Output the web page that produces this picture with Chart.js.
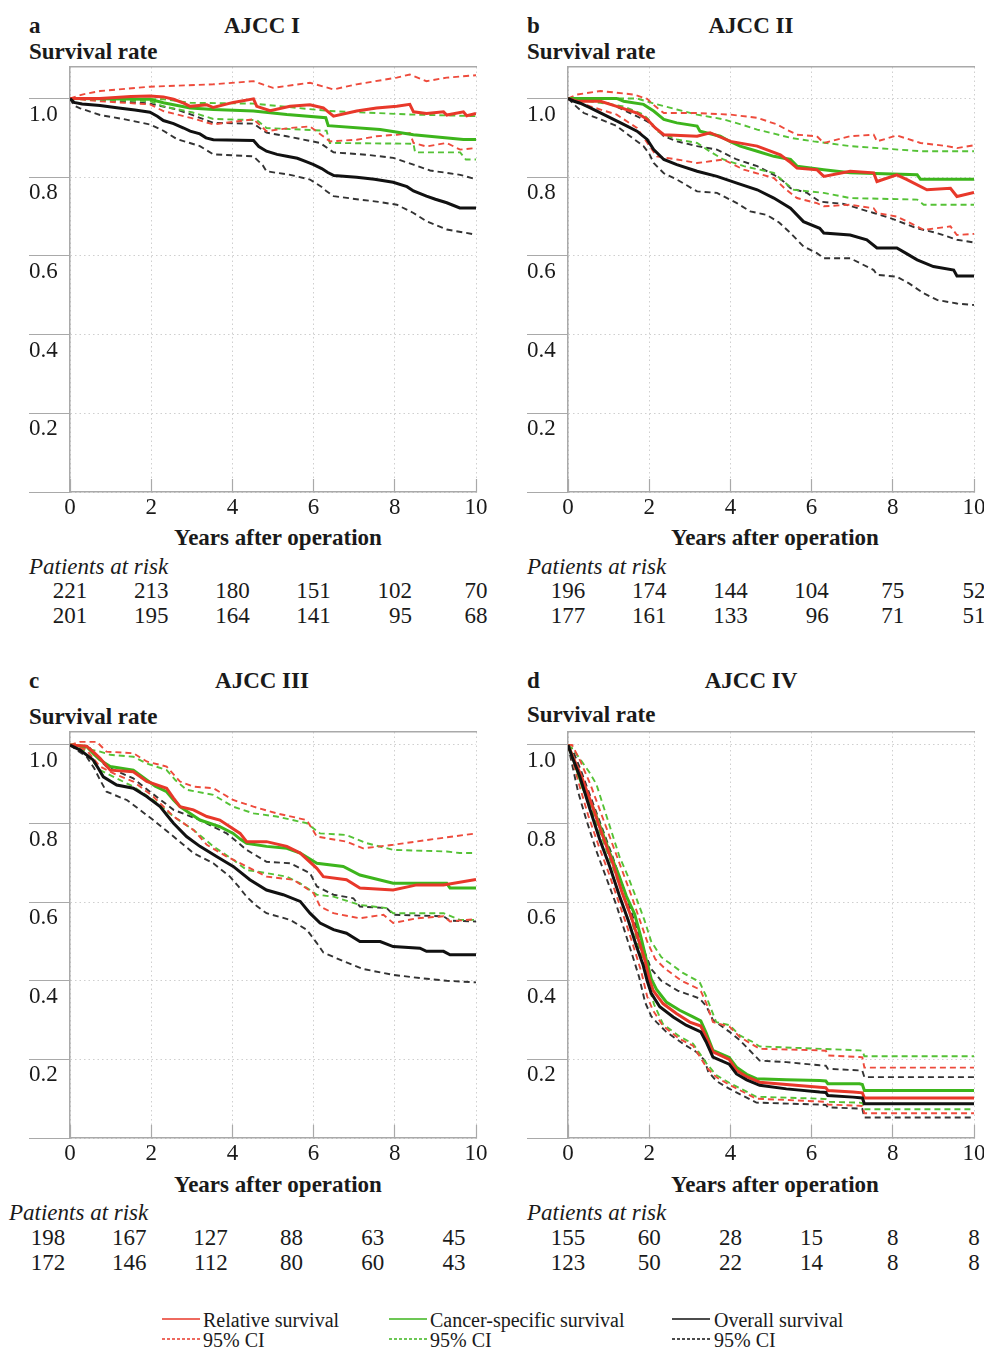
<!DOCTYPE html>
<html><head><meta charset="utf-8">
<script src="https://cdn.jsdelivr.net/npm/chart.js@4.4.1/dist/chart.umd.min.js"></script>
<style>
html,body{margin:0;padding:0;background:#fff;}
body{width:984px;height:1351px;position:relative;overflow:hidden;font-family:"Liberation Serif","Times New Roman",serif;color:#1a1a1a;}
.t{position:absolute;white-space:nowrap;line-height:1;}
.b{font-weight:bold;font-size:23px;}
.c{transform:translate(-50%,-50%);}
.l{transform:translateY(-50%);}
.pat{font-style:italic;font-size:23px;}
.leg{font-size:20px;}
canvas{position:absolute;}
.risk{position:absolute;font-size:23px;line-height:25.5px;text-align:right;transform:translateX(-50%);white-space:nowrap;}
svg{position:absolute;}
</style></head><body>

<div class="t b l" style="left:29px;top:25px">a</div>
<div class="t b c" style="left:262px;top:25px">AJCC I</div>
<div class="t b l" style="left:29px;top:50.5px">Survival rate</div>
<div class="t b l" style="left:527px;top:25px">b</div>
<div class="t b c" style="left:751px;top:25px">AJCC II</div>
<div class="t b l" style="left:527px;top:50.5px">Survival rate</div>
<div class="t b c" style="left:278px;top:537px">Years after operation</div>
<div class="t b c" style="left:775px;top:537px">Years after operation</div>
<div class="t pat l" style="left:29px;top:565.5px">Patients at risk</div>
<div class="t pat l" style="left:527px;top:565.5px">Patients at risk</div>

<div class="t b l" style="left:29px;top:679.5px">c</div>
<div class="t b c" style="left:262px;top:679.5px">AJCC III</div>
<div class="t b l" style="left:29px;top:715.5px">Survival rate</div>
<div class="t b l" style="left:527px;top:679.5px">d</div>
<div class="t b c" style="left:751px;top:679.5px">AJCC IV</div>
<div class="t b l" style="left:527px;top:714px">Survival rate</div>
<div class="t b c" style="left:278px;top:1184px">Years after operation</div>
<div class="t b c" style="left:775px;top:1184px">Years after operation</div>
<div class="t pat l" style="left:9px;top:1212px">Patients at risk</div>
<div class="t pat l" style="left:527px;top:1212px">Patients at risk</div>

<canvas id="ca" width="474" height="471" style="left:29px;top:51px;width:474px;height:471px"></canvas>
<canvas id="cb" width="474" height="471" style="left:527px;top:51px;width:474px;height:471px"></canvas>
<canvas id="cc" width="474" height="452" style="left:29px;top:716px;width:474px;height:452px"></canvas>
<canvas id="cd" width="474" height="452" style="left:527px;top:716px;width:474px;height:452px"></canvas>

<svg style="left:162px;top:1313.5px" width="38" height="10"><line x1="0" y1="5" x2="38" y2="5" stroke="#e8382a" stroke-width="1.5"/></svg>
<div class="t leg l" style="left:203px;top:1320px">Relative survival</div>
<svg style="left:162px;top:1334px" width="38" height="10"><line x1="0" y1="5" x2="38" y2="5" stroke="#e8382a" stroke-width="1.5" stroke-dasharray="3,2"/></svg>
<div class="t leg l" style="left:203px;top:1340px">95% CI</div>
<svg style="left:389px;top:1313.5px" width="38" height="10"><line x1="0" y1="5" x2="38" y2="5" stroke="#3db51c" stroke-width="1.5"/></svg>
<div class="t leg l" style="left:430px;top:1320px">Cancer-specific survival</div>
<svg style="left:389px;top:1334px" width="38" height="10"><line x1="0" y1="5" x2="38" y2="5" stroke="#3db51c" stroke-width="1.5" stroke-dasharray="3,2"/></svg>
<div class="t leg l" style="left:430px;top:1340px">95% CI</div>
<svg style="left:672px;top:1313.5px" width="38" height="10"><line x1="0" y1="5" x2="38" y2="5" stroke="#111" stroke-width="1.5"/></svg>
<div class="t leg l" style="left:714px;top:1320px">Overall survival</div>
<svg style="left:672px;top:1334px" width="38" height="10"><line x1="0" y1="5" x2="38" y2="5" stroke="#111" stroke-width="1.5" stroke-dasharray="3,2"/></svg>
<div class="t leg l" style="left:714px;top:1340px">95% CI</div>

<script>
const xTicks = [0, 2, 4, 6, 8, 10];
const yTicks = [0, 0.2, 0.4, 0.6, 0.8, 1.0];

const riskA = [[221,213,180,151,102,70],[201,195,164,141,95,68]];
const riskB = [[196,174,144,104,75,52],[177,161,133,96,71,51]];
const riskC = [[198,167,127,88,63,45],[172,146,112,80,60,43]];
const riskD = [[155,60,28,15,8,8],[123,50,22,14,8,8]];

// ---- Panel a: AJCC I ----
const aRS = [[0,1],[0.74,1.0],[1.5,1.005],[1.97,1.006],[2.3,1.004],[2.55,0.998],[2.8,0.988],[2.96,0.98],[3.37,0.984],[3.53,0.977],[4.02,0.99],[4.52,0.999],[4.6,0.98],[4.93,0.969],[5.42,0.98],[5.91,0.984],[6.24,0.976],[6.49,0.955],[7.06,0.968],[7.55,0.976],[8.05,0.98],[8.37,0.985],[8.46,0.966],[8.78,0.962],[9.2,0.966],[9.28,0.958],[9.69,0.966],[9.77,0.956],[10,0.962]];
const aRSlo = [[0,1],[0.74,0.993],[1.97,0.985],[2.3,0.968],[3.0,0.95],[3.53,0.934],[4.52,0.947],[4.84,0.917],[5.42,0.925],[5.91,0.929],[6.4,0.891],[7.06,0.895],[7.55,0.904],[8.05,0.908],[8.37,0.912],[8.46,0.887],[8.78,0.878],[9.28,0.887],[9.61,0.87],[10,0.874]];
const aRShi = [[0,1],[0.3,1.01],[0.74,1.019],[1.97,1.03],[3.53,1.036],[4.52,1.044],[5.0,1.027],[5.91,1.04],[6.49,1.023],[7.06,1.036],[8.05,1.053],[8.37,1.061],[8.78,1.044],[9.28,1.053],[10,1.059]];
const aCSS = [[0,1],[1.97,0.998],[2.3,0.989],[2.96,0.976],[3.53,0.972],[4.52,0.968],[5.34,0.959],[6.3,0.951],[6.36,0.931],[7.64,0.921],[8.46,0.908],[9.69,0.896],[10,0.896]];
const aCSSlo = [[0,1],[0.74,0.997],[1.97,0.993],[2.3,0.98],[3.0,0.965],[3.53,0.948],[4.6,0.945],[4.84,0.925],[6.32,0.918],[6.4,0.887],[8.46,0.885],[8.5,0.863],[9.61,0.863],[9.75,0.845],[10,0.845]];
const aCSShi = [[0,1],[2.3,0.998],[2.96,0.989],[4.52,0.987],[6.4,0.968],[8.46,0.959],[10,0.955]];
const aOS = [[0,1],[0.1,0.99],[0.3,0.986],[0.74,0.982],[1.2,0.976],[1.6,0.971],[1.97,0.965],[2.15,0.955],[2.3,0.944],[2.55,0.936],[2.8,0.925],[2.96,0.917],[3.2,0.91],[3.35,0.9],[3.53,0.895],[4.52,0.893],[4.65,0.878],[4.84,0.866],[5.1,0.858],[5.34,0.853],[5.6,0.848],[5.8,0.84],[6.0,0.832],[6.2,0.822],[6.35,0.812],[6.5,0.804],[7.06,0.8],[7.5,0.795],[7.96,0.787],[8.3,0.776],[8.46,0.765],[8.78,0.752],[9.0,0.744],[9.28,0.735],[9.6,0.722],[10,0.722]];
const aOSlo = [[0,1],[0.1,0.982],[0.25,0.975],[0.74,0.958],[1.3,0.948],[1.97,0.934],[2.3,0.918],[2.63,0.897],[3.2,0.879],[3.53,0.858],[4.52,0.853],[4.75,0.83],[4.84,0.815],[5.42,0.806],[5.91,0.794],[6.2,0.775],[6.32,0.764],[6.49,0.752],[7.06,0.744],[7.55,0.738],[8.05,0.73],[8.46,0.709],[8.78,0.688],[9.28,0.667],[10,0.654]];
const aOShi = [[0,1],[0.74,0.997],[1.97,0.987],[2.63,0.972],[3.04,0.957],[3.53,0.938],[4.52,0.936],[4.84,0.913],[5.34,0.904],[6.16,0.887],[6.49,0.863],[7.31,0.857],[7.96,0.849],[8.46,0.832],[8.87,0.817],[9.61,0.806],[10,0.795]];

// ---- Panel b: AJCC II ----
const bRS = [[0,1],[0.22,0.993],[0.8,0.993],[1.2,0.98],[1.7,0.963],[1.95,0.947],[2.15,0.925],[2.36,0.908],[3.18,0.904],[3.5,0.913],[4.0,0.891],[4.66,0.879],[5.23,0.857],[5.45,0.84],[5.64,0.823],[6.13,0.819],[6.3,0.802],[6.95,0.815],[7.53,0.811],[7.61,0.789],[8.1,0.806],[8.35,0.794],[8.84,0.768],[9.42,0.772],[9.58,0.751],[10,0.761]];
const bRSlo = [[0,1],[0.55,0.98],[1.2,0.959],[1.7,0.925],[2.0,0.88],[2.19,0.853],[2.68,0.845],[3.18,0.836],[3.83,0.845],[4.33,0.819],[5.07,0.798],[5.35,0.77],[5.64,0.747],[6.13,0.734],[6.3,0.726],[6.95,0.73],[7.53,0.721],[7.61,0.709],[8.1,0.7],[8.4,0.685],[8.76,0.666],[9.42,0.675],[9.58,0.653],[10,0.656]];
const bRShi = [[0,1],[0.22,1.01],[0.8,1.019],[1.62,1.01],[1.95,0.999],[2.15,0.98],[2.36,0.963],[3.18,0.963],[4.0,0.959],[4.66,0.951],[5.15,0.934],[5.4,0.92],[5.64,0.908],[6.13,0.904],[6.3,0.887],[6.95,0.904],[7.53,0.908],[7.61,0.891],[8.1,0.906],[8.68,0.887],[9.33,0.879],[9.58,0.874],[10,0.881]];
const bCSS = [[0,1],[1.2,1.0],[1.37,0.993],[1.86,0.985],[2.11,0.968],[2.36,0.947],[2.68,0.938],[3.18,0.93],[3.25,0.917],[3.75,0.904],[4.0,0.89],[4.24,0.879],[4.66,0.866],[5.07,0.853],[5.48,0.845],[5.64,0.828],[6.3,0.819],[6.95,0.811],[8.6,0.806],[8.68,0.795],[10,0.795]];
const bCSSlo = [[0,1],[0.8,0.989],[1.37,0.98],[1.86,0.959],[2.05,0.94],[2.19,0.917],[2.68,0.896],[3.18,0.887],[3.5,0.865],[3.83,0.845],[4.33,0.828],[5.07,0.811],[5.3,0.79],[5.56,0.768],[6.3,0.76],[6.95,0.747],[8.6,0.743],[8.76,0.73],[10,0.73]];
const bCSShi = [[0,1],[1.7,1.0],[2.19,0.985],[2.68,0.972],[3.18,0.959],[3.83,0.947],[4.3,0.933],[4.66,0.921],[5.1,0.91],[5.48,0.9],[6.05,0.891],[6.95,0.879],[8.68,0.866],[10,0.866]];
const bOS = [[0,1],[0.15,0.993],[0.3,0.988],[0.55,0.976],[0.96,0.955],[1.37,0.934],[1.7,0.917],[1.95,0.896],[2.11,0.87],[2.36,0.845],[2.68,0.832],[3.18,0.815],[3.67,0.802],[4.16,0.785],[4.66,0.768],[5.07,0.747],[5.48,0.721],[5.8,0.687],[6.2,0.67],[6.3,0.658],[6.95,0.653],[7.36,0.641],[7.61,0.62],[8.1,0.62],[8.35,0.605],[8.6,0.59],[9.0,0.573],[9.5,0.564],[9.58,0.549],[10,0.549]];
const bOSlo = [[0,1],[0.2,0.98],[0.39,0.963],[0.8,0.947],[1.2,0.93],[1.53,0.904],[1.86,0.879],[2.0,0.86],[2.11,0.836],[2.36,0.81],[2.68,0.794],[3.18,0.764],[3.67,0.76],[4.16,0.734],[4.49,0.713],[4.9,0.704],[5.2,0.685],[5.48,0.658],[5.8,0.624],[6.13,0.607],[6.3,0.594],[6.95,0.594],[7.53,0.564],[7.61,0.552],[8.1,0.547],[8.4,0.53],[8.76,0.505],[9.09,0.488],[9.58,0.479],[10,0.475]];
const bOShi = [[0,1],[0.55,0.997],[0.96,0.989],[1.25,0.977],[1.53,0.963],[1.95,0.942],[2.15,0.925],[2.36,0.904],[2.68,0.891],[3.18,0.879],[3.67,0.87],[4.16,0.845],[4.66,0.828],[5.07,0.806],[5.3,0.79],[5.48,0.772],[5.89,0.76],[6.2,0.738],[6.79,0.732],[7.53,0.709],[7.94,0.696],[8.6,0.67],[9.09,0.658],[9.58,0.641],[10,0.634]];

// ---- Panel c: AJCC III ----
const cRS = [[0,1],[0.41,0.997],[0.6,0.98],[0.74,0.966],[0.99,0.936],[1.56,0.932],[1.89,0.907],[2.38,0.89],[2.55,0.865],[2.71,0.843],[3.04,0.835],[3.37,0.818],[3.69,0.809],[4.19,0.775],[4.35,0.754],[4.84,0.754],[5.34,0.742],[5.67,0.725],[6.08,0.686],[6.24,0.665],[6.81,0.657],[7.14,0.636],[7.96,0.631],[8.54,0.644],[9.2,0.644],[10,0.658]];
const cRSlo = [[0,1],[0.41,0.987],[0.74,0.945],[1.15,0.924],[1.56,0.907],[2.05,0.869],[2.55,0.818],[3.04,0.784],[3.37,0.746],[3.86,0.716],[4.35,0.691],[4.84,0.665],[5.5,0.657],[6.0,0.623],[6.16,0.589],[6.49,0.572],[7.14,0.559],[7.72,0.568],[7.96,0.547],[8.54,0.559],[9.2,0.564],[9.36,0.551],[10,0.557]];
const cRShi = [[0,1],[0.25,1.008],[0.66,1.008],[0.9,0.983],[1.56,0.979],[1.89,0.958],[2.38,0.945],[2.71,0.907],[3.04,0.894],[3.53,0.89],[4.02,0.86],[4.52,0.843],[5.09,0.826],[5.83,0.809],[6.08,0.767],[6.81,0.754],[7.22,0.737],[7.96,0.746],[8.78,0.758],[10,0.775]];
const cCSS = [[0,1],[0.41,0.996],[0.6,0.975],[0.74,0.962],[0.99,0.945],[1.56,0.936],[1.89,0.911],[2.1,0.895],[2.38,0.881],[2.55,0.86],[2.71,0.843],[3.2,0.809],[3.69,0.792],[4.02,0.775],[4.2,0.76],[4.35,0.75],[4.84,0.742],[5.34,0.737],[5.67,0.725],[6.08,0.699],[6.73,0.691],[7.14,0.669],[7.96,0.648],[9.28,0.648],[9.36,0.636],[10,0.636]];
const cCSSlo = [[0,1],[0.33,0.987],[0.55,0.96],[0.74,0.936],[1.15,0.915],[1.56,0.894],[2.05,0.86],[2.55,0.818],[3.04,0.784],[3.53,0.742],[4.02,0.708],[4.35,0.682],[4.84,0.674],[5.34,0.665],[5.67,0.648],[6.08,0.619],[6.49,0.614],[7.14,0.593],[7.8,0.585],[7.96,0.572],[9.2,0.572],[9.6,0.555],[10,0.555]];
const cCSShi = [[0,1],[0.74,0.983],[0.99,0.975],[1.56,0.97],[1.89,0.953],[2.38,0.936],[2.6,0.91],[2.87,0.886],[3.53,0.873],[4.02,0.843],[4.52,0.826],[5.09,0.818],[5.83,0.801],[6.16,0.775],[6.81,0.771],[7.31,0.75],[7.96,0.733],[9.28,0.729],[9.6,0.725],[10,0.725]];
const cOS = [[0,1],[0.25,0.987],[0.57,0.962],[0.7,0.94],[0.82,0.919],[1.15,0.898],[1.56,0.89],[1.89,0.869],[2.22,0.843],[2.4,0.82],[2.55,0.801],[2.87,0.767],[3.2,0.742],[3.61,0.716],[4.02,0.691],[4.43,0.657],[4.84,0.631],[5.25,0.619],[5.67,0.602],[5.91,0.572],[6.16,0.547],[6.49,0.53],[6.81,0.521],[7.14,0.5],[7.64,0.5],[7.96,0.487],[8.62,0.483],[8.78,0.475],[9.2,0.475],[9.36,0.466],[10,0.466]];
const cOSlo = [[0,1],[0.2,0.985],[0.41,0.97],[0.6,0.94],[0.74,0.911],[0.9,0.881],[1.4,0.86],[1.72,0.835],[2.05,0.809],[2.55,0.767],[3.04,0.725],[3.53,0.699],[3.94,0.665],[4.15,0.64],[4.35,0.614],[4.6,0.59],[4.84,0.572],[5.42,0.555],[5.83,0.53],[6.08,0.496],[6.24,0.472],[6.73,0.45],[7.22,0.43],[7.96,0.415],[8.62,0.407],[9.28,0.4],[10,0.396]];
const cOShi = [[0,1],[0.49,0.992],[0.7,0.965],[0.9,0.945],[1.56,0.915],[1.97,0.881],[2.55,0.835],[3.2,0.809],[3.86,0.775],[4.1,0.755],[4.35,0.733],[4.84,0.703],[5.42,0.699],[5.91,0.674],[6.08,0.64],[6.49,0.619],[6.98,0.61],[7.14,0.589],[7.8,0.585],[7.96,0.568],[9.2,0.564],[9.36,0.553],[10,0.551]];

// ---- Panel d: AJCC IV ----
const dRS = [[0,1],[0.12,0.97],[0.33,0.92],[0.6,0.845],[0.85,0.77],[1.1,0.7],[1.33,0.625],[1.55,0.565],[1.75,0.5],[1.9,0.45],[2.0,0.405],[2.1,0.375],[2.34,0.342],[2.67,0.317],[3.0,0.295],[3.27,0.285],[3.4,0.258],[3.57,0.219],[3.97,0.2],[4.15,0.172],[4.4,0.156],[4.72,0.142],[5.38,0.136],[6.2,0.129],[6.35,0.128],[6.4,0.121],[7.02,0.117],[7.25,0.115],[7.3,0.102],[10,0.102]];
const dRSlo = [[0,1],[0.1,0.965],[0.3,0.89],[0.5,0.82],[0.75,0.745],[1.0,0.675],[1.25,0.6],[1.45,0.54],[1.65,0.475],[1.8,0.425],[1.95,0.36],[2.09,0.325],[2.34,0.285],[2.75,0.252],[3.08,0.235],[3.41,0.18],[3.65,0.155],[3.98,0.135],[4.64,0.1],[6.2,0.093],[6.35,0.092],[6.4,0.085],[7.18,0.082],[7.25,0.081],[7.3,0.063],[10,0.063]];
const dRShi = [[0,1],[0.1,1.0],[0.3,0.96],[0.55,0.9],[0.8,0.83],[1.05,0.76],[1.3,0.69],[1.55,0.62],[1.75,0.56],[1.95,0.5],[2.15,0.455],[2.4,0.43],[2.8,0.4],[3.2,0.38],[3.28,0.372],[3.41,0.342],[3.57,0.295],[3.98,0.283],[4.23,0.257],[4.72,0.227],[6.2,0.223],[6.35,0.222],[6.4,0.21],[7.18,0.206],[7.25,0.205],[7.3,0.179],[10,0.179]];
const dCSS = [[0,1],[0.15,0.96],[0.37,0.89],[0.62,0.84],[0.82,0.785],[1.03,0.725],[1.23,0.675],[1.44,0.615],[1.64,0.57],[1.8,0.51],[1.93,0.453],[2.05,0.405],[2.18,0.378],[2.42,0.346],[2.75,0.325],[3.08,0.308],[3.27,0.298],[3.4,0.268],[3.57,0.223],[3.97,0.205],[4.15,0.18],[4.4,0.162],[4.64,0.151],[5.38,0.148],[6.2,0.146],[6.35,0.145],[6.4,0.138],[7.18,0.138],[7.25,0.136],[7.3,0.121],[10,0.121]];
const dCSSlo = [[0,1],[0.12,0.97],[0.35,0.9],[0.6,0.83],[0.85,0.76],[1.1,0.69],[1.35,0.62],[1.55,0.56],[1.72,0.495],[1.88,0.44],[2.02,0.375],[2.12,0.34],[2.34,0.29],[2.75,0.258],[3.08,0.24],[3.41,0.19],[3.65,0.16],[3.98,0.14],[4.64,0.105],[6.2,0.1],[6.35,0.099],[6.4,0.092],[7.18,0.09],[7.25,0.089],[7.3,0.073],[10,0.073]];
const dCSShi = [[0,1],[0.12,0.99],[0.53,0.93],[0.7,0.9],[0.9,0.835],[1.07,0.78],[1.27,0.715],[1.48,0.665],[1.72,0.6],[1.88,0.555],[2.05,0.5],[2.3,0.46],[2.5,0.445],[2.83,0.42],[3.24,0.397],[3.41,0.359],[3.65,0.295],[3.98,0.287],[4.23,0.261],[4.56,0.244],[4.72,0.233],[7.18,0.223],[7.25,0.222],[7.3,0.208],[10,0.208]];
const dOS = [[0,1],[0.1,0.97],[0.29,0.92],[0.53,0.84],[0.78,0.76],[1.03,0.69],[1.27,0.615],[1.48,0.555],[1.68,0.49],[1.85,0.44],[1.95,0.4],[2.05,0.368],[2.26,0.334],[2.59,0.308],[2.91,0.287],[3.27,0.27],[3.4,0.245],[3.57,0.206],[3.97,0.188],[4.15,0.163],[4.4,0.148],[4.72,0.134],[5.38,0.125],[6.2,0.117],[6.35,0.116],[6.4,0.108],[7.02,0.104],[7.25,0.102],[7.3,0.087],[10,0.087]];
const dOSlo = [[0,1],[0.08,0.96],[0.25,0.88],[0.45,0.81],[0.7,0.73],[0.95,0.66],[1.2,0.59],[1.4,0.525],[1.6,0.46],[1.75,0.41],[1.9,0.345],[2.05,0.31],[2.18,0.295],[2.42,0.27],[2.83,0.24],[3.16,0.219],[3.37,0.197],[3.45,0.17],[3.65,0.145],[3.98,0.125],[4.64,0.09],[6.2,0.085],[6.35,0.084],[6.4,0.078],[7.18,0.075],[7.25,0.074],[7.3,0.052],[10,0.052]];
const dOShi = [[0,1],[0.1,0.99],[0.3,0.94],[0.55,0.87],[0.8,0.8],[1.05,0.73],[1.3,0.655],[1.5,0.595],[1.7,0.53],[1.9,0.47],[2.05,0.43],[2.3,0.4],[2.7,0.375],[3.24,0.355],[3.41,0.335],[3.57,0.3],[3.98,0.27],[4.23,0.249],[4.72,0.197],[5.38,0.193],[6.2,0.185],[6.35,0.184],[6.4,0.176],[7.18,0.172],[7.25,0.171],[7.3,0.155],[10,0.155]];

const FONT = '"Liberation Serif", "Times New Roman", serif';
const RED = '#e8382a', GREEN = '#3db51c', BLACK = '#111111';
const RED_D = '#ee4b3c', GREEN_D = '#55c236', BLACK_D = '#333333';
const AXIS = '#a9a9a9', GRID = '#cfcfcf';

function xy(arr) { return arr.map(p => ({x: p[0], y: p[1]})); }
function solid(arr, col) { return {data: xy(arr), borderColor: col, borderWidth: 3, pointRadius: 0, fill: false}; }
function dashed(arr, col) { return {data: xy(arr), borderColor: col, borderWidth: 1.9, borderDash: [6, 4], pointRadius: 0, fill: false}; }

function options(ymax) {
  return {
    responsive: false, animation: false, devicePixelRatio: 1,
    layout: {padding: {top: 16, right: 27, left: 0, bottom: 0}},
    plugins: {legend: {display: false}, tooltip: {enabled: false}},
    elements: {point: {radius: 0}, line: {tension: 0}},
    scales: {
      x: {
        type: 'linear', position: 'bottom', min: 0, max: 10,
        afterBuildTicks: s => { s.ticks = xTicks.map(v => ({value: v})); },
        afterFit: s => { s.height = 30; },
        grid: {color: GRID, lineWidth: 1, tickLength: -13, tickColor: AXIS, tickWidth: 1.2, tickBorderDash: []},
        border: {color: AXIS, width: 1.5, dash: [1.5, 3]},
        ticks: {autoSkip: false, maxRotation: 0, padding: 15, color: '#1a1a1a', font: {family: FONT, size: 23}, callback: v => String(v)}
      },
      x2: {
        type: 'linear', position: 'top', min: 0, max: 10,
        afterFit: s => { s.height = 0; },
        grid: {display: false}, ticks: {display: false},
        border: {display: true, color: AXIS, width: 1.5}
      },
      y: {
        type: 'linear', position: 'left', min: 0, max: ymax,
        afterBuildTicks: s => { s.ticks = yTicks.map(v => ({value: v})); },
        afterFit: s => { s.width = 41; },
        grid: {color: GRID, lineWidth: 1, tickLength: 41, tickColor: AXIS, tickWidth: 1.2, tickBorderDash: []},
        border: {color: AXIS, width: 1.5, dash: [1.5, 3]},
        ticks: {crossAlign: 'far', labelOffset: 16, padding: 0, color: '#1a1a1a', font: {family: FONT, size: 23}, callback: v => (v === 0 ? '' : v.toFixed(1))}
      }
    }
  };
}

function panel(id, ymax, s) {
  const ds = [
    solid(s.os, BLACK), solid(s.rs, RED), solid(s.css, GREEN),
    dashed(s.rsLo, RED_D), dashed(s.rsHi, RED_D),
    dashed(s.cssLo, GREEN_D), dashed(s.cssHi, GREEN_D),
    dashed(s.osLo, BLACK_D), dashed(s.osHi, BLACK_D)
  ];
  return new Chart(document.getElementById(id), {type: 'line', data: {datasets: ds}, options: options(ymax)});
}

function riskTable(chart, canvasLeft, rowTop, rows, dx) {
  xTicks.forEach((t, i) => {
    const d = document.createElement('div');
    d.className = 'risk';
    d.style.left = (canvasLeft + chart.scales.x.getPixelForValue(t) + dx) + 'px';
    d.style.top = rowTop + 'px';
    d.innerHTML = rows[0][i] + '<br>' + rows[1][i];
    document.body.appendChild(d);
  });
}

Chart.defaults.font.family = FONT;

const ca = panel('ca', 1.08, {rs: aRS, rsLo: aRSlo, rsHi: aRShi, css: aCSS, cssLo: aCSSlo, cssHi: aCSShi, os: aOS, osLo: aOSlo, osHi: aOShi});
const cb = panel('cb', 1.08, {rs: bRS, rsLo: bRSlo, rsHi: bRShi, css: bCSS, cssLo: bCSSlo, cssHi: bCSShi, os: bOS, osLo: bOSlo, osHi: bOShi});
const cc = panel('cc', 1.033, {rs: cRS, rsLo: cRSlo, rsHi: cRShi, css: cCSS, cssLo: cCSSlo, cssHi: cCSShi, os: cOS, osLo: cOSlo, osHi: cOShi});
const cd = panel('cd', 1.033, {rs: dRS, rsLo: dRSlo, rsHi: dRShi, css: dCSS, cssLo: dCSSlo, cssHi: dCSShi, os: dOS, osLo: dOSlo, osHi: dOShi});

riskTable(ca, 29, 577.75, riskA, 0);
riskTable(cb, 527, 577.75, riskB, 0);
riskTable(cc, 29, 1224.5, riskC, -22);
riskTable(cd, 527, 1224.5, riskD, 0);
</script>
</body></html>
